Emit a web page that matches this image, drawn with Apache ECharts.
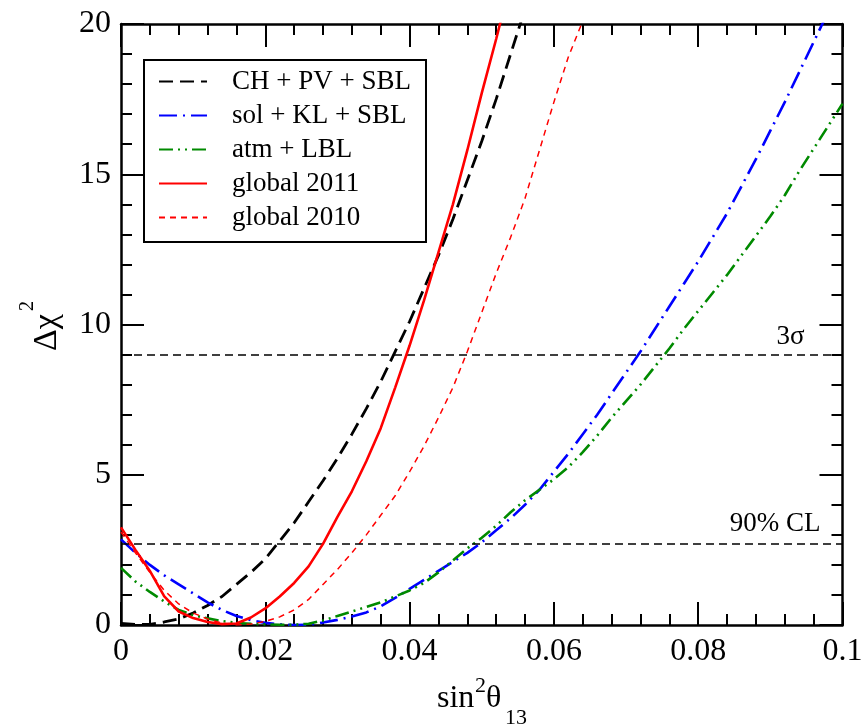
<!DOCTYPE html>
<html>
<head>
<meta charset="utf-8">
<script src="https://cdn.jsdelivr.net/npm/echarts@6/dist/echarts.min.js"></script>
<style>html,body{margin:0;padding:0;background:#fff}#c{width:867px;height:727px}</style>
</head>
<body>
<div id="c"></div>
<script>
// sample grid of sin^2(theta13)
const sinSq = [0,0.002,0.004,0.006,0.008,0.010,0.012,0.014,0.016,0.018,0.020,0.022,0.024,0.026,0.028,0.030,0.032,0.034,0.036,0.038,0.040,0.042,0.044,0.046,0.048,0.050,0.052,0.054,0.056,0.058,0.060,0.062,0.064,0.066,0.068,0.070,0.072,0.074,0.076,0.078,0.080,0.082,0.084,0.086,0.088,0.090,0.092,0.094,0.096,0.098,0.100];

const seriesNames = ['CH + PV + SBL','sol + KL + SBL','atm + LBL','global 2011','global 2010'];

const chPvSbl = [0.05,0.02,0.02,0.1,0.2,0.4,0.65,0.95,1.35,1.75,2.2,2.8,3.4,4.1,4.8,5.55,6.35,7.2,8.1,9.1,10.1,11.2,12.3,13.5,14.8,16.1,17.5,19.0,20.5];

const solKlSbl = [2.85,2.4,2.0,1.65,1.35,1.05,0.75,0.5,0.3,0.16,0.07,0.02,0.0,0.01,0.08,0.17,0.28,0.42,0.62,0.9,1.2,1.5,1.8,2.1,2.4,2.75,3.15,3.55,4.0,4.5,5.1,5.7,6.35,7.0,7.7,8.4,9.1,9.85,10.6,11.35,12.1,12.9,13.7,14.6,15.5,16.45,17.4,18.4,19.4,20.4,21.5];

const atmLbl = [1.9,1.45,1.1,0.78,0.5,0.33,0.22,0.13,0.07,0.04,0.02,0.01,0.01,0.04,0.15,0.3,0.45,0.6,0.75,0.95,1.15,1.4,1.75,2.15,2.55,2.9,3.3,3.75,4.15,4.5,4.85,5.25,5.75,6.3,6.9,7.45,8.0,8.6,9.2,9.85,10.45,11.05,11.65,12.3,12.95,13.6,14.3,15.1,15.85,16.6,17.35];

const global2011 = [3.25,2.5,1.8,0.95,0.45,0.23,0.1,0.03,0.05,0.25,0.55,0.95,1.4,1.95,2.7,3.6,4.45,5.45,6.55,7.9,9.3,10.8,12.4,14.0,15.8,17.7,19.5,21.4];

const global2010 = [3.1,2.4,1.75,1.15,0.7,0.4,0.2,0.06,0.0,0.03,0.12,0.27,0.5,0.85,1.35,1.85,2.4,3.0,3.65,4.3,5.1,5.95,6.9,7.9,9.1,10.4,11.7,12.9,14.2,15.8,17.4,18.9,20.1,21.6];

const refLevels = [9, 2.71];
const refLabels = ['3σ', '90% CL'];

const xTicks = {min:0, max:0.1, interval:0.02};
const yTicks = {min:0, max:20, interval:5};

function pairs(ys){ return ys.map((y,i)=>[sinSq[i], y]); }

const FONT = 'Liberation Serif';
const chart = echarts.init(document.getElementById('c'), null, {renderer:'canvas'});

const axisCommon = {
  axisLine:{show:true, onZero:false, lineStyle:{color:'#000', width:2.5}},
  axisTick:{show:true, inside:true, length:23, lineStyle:{color:'#000', width:2}},
  minorTick:{show:true, splitNumber:5, length:11, lineStyle:{color:'#000', width:2}},
  splitLine:{show:false}, minorSplitLine:{show:false}
};

const styles = [
  {color:'#000000', width:2.8, type:[14,7]},
  {color:'#0000ff', width:2.6, type:[18,6,2,6]},
  {color:'#008a00', width:2.6, type:[14,5,2,5,2,5]},
  {color:'#ff0000', width:2.6, type:'solid'},
  {color:'#ff0000', width:1.5, type:[6,5]}
];
const dataSets = [chPvSbl, solKlSbl, atmLbl, global2011, global2010];

const series = dataSets.map((d,i)=>({
  name: seriesNames[i], type:'line', data: pairs(d), symbol:'none', smooth:false,
  clip:true, color: styles[i].color,
  lineStyle: styles[i], z: i===3 ? 5 : 3
}));

series.push({
  name:'ref', type:'line', data:[], symbol:'none',
  markLine:{
    silent:true, symbol:'none', animation:false,
    lineStyle:{color:'#000', width:1.6, type:[8,5]},
    data:[
      {yAxis: refLevels[0], label:{show:true, formatter: refLabels[0], position:'insideEndTop', color:'#000', fontFamily:FONT, fontSize:27, padding:[0,38,0,0], distance:[0,4]}},
      {yAxis: refLevels[1], label:{show:true, formatter: refLabels[1], position:'insideEndTop', color:'#000', fontFamily:FONT, fontSize:27, padding:[0,22,0,0], distance:[0,6]}}
    ]
  }
});

const txt = (t, size) => ({text:t, font: size + 'px "Liberation Serif"', fill:'#000', verticalAlign:'bottom', textVerticalAlign:'bottom'});

chart.setOption({
  animation:false,
  backgroundColor:'#fff',
  grid:{left:121, right:24.5, top:24, bottom:102, containLabel:false},
  xAxis:[
    Object.assign({type:'value', position:'bottom', min:xTicks.min, max:xTicks.max, interval:xTicks.interval,
      axisLabel:{color:'#000', fontFamily:FONT, fontSize:32, margin:11}}, axisCommon),
    Object.assign({type:'value', position:'top', min:xTicks.min, max:xTicks.max, interval:xTicks.interval,
      axisLabel:{show:false}}, axisCommon)
  ],
  yAxis:[
    Object.assign({type:'value', position:'left', min:yTicks.min, max:yTicks.max, interval:yTicks.interval,
      axisLabel:{color:'#000', fontFamily:FONT, fontSize:32, margin:10}}, axisCommon),
    Object.assign({type:'value', position:'right', min:yTicks.min, max:yTicks.max, interval:yTicks.interval,
      axisLabel:{show:false}}, axisCommon)
  ],
  legend:{
    data: seriesNames, orient:'vertical', left:144, top:60,
    padding:[8,15,11,14], itemGap:7, itemWidth:48, itemHeight:20,
    borderColor:'#000', borderWidth:2, borderRadius:0, backgroundColor:'#fff',
    itemStyle:{opacity:0},
    textStyle:{fontFamily:FONT, fontSize:27, color:'#000', padding:[0,0,0,20]}
  },
  graphic:[
    {type:'text', x:437, y:715, style:txt('sin', 32)},
    {type:'text', x:475, y:697, style:txt('2', 22)},
    {type:'text', x:486, y:715, style:txt('θ', 32)},
    {type:'text', x:505, y:729, style:txt('13', 22)},
    {type:'group', x:64, y:351, rotation:Math.PI/2, children:[
      {type:'text', x:0, y:0, style:txt('Δχ', 34)},
      {type:'text', x:40, y:-26, style:txt('2', 20)}
    ]}
  ],
  series: series
});
</script>
</body>
</html>
